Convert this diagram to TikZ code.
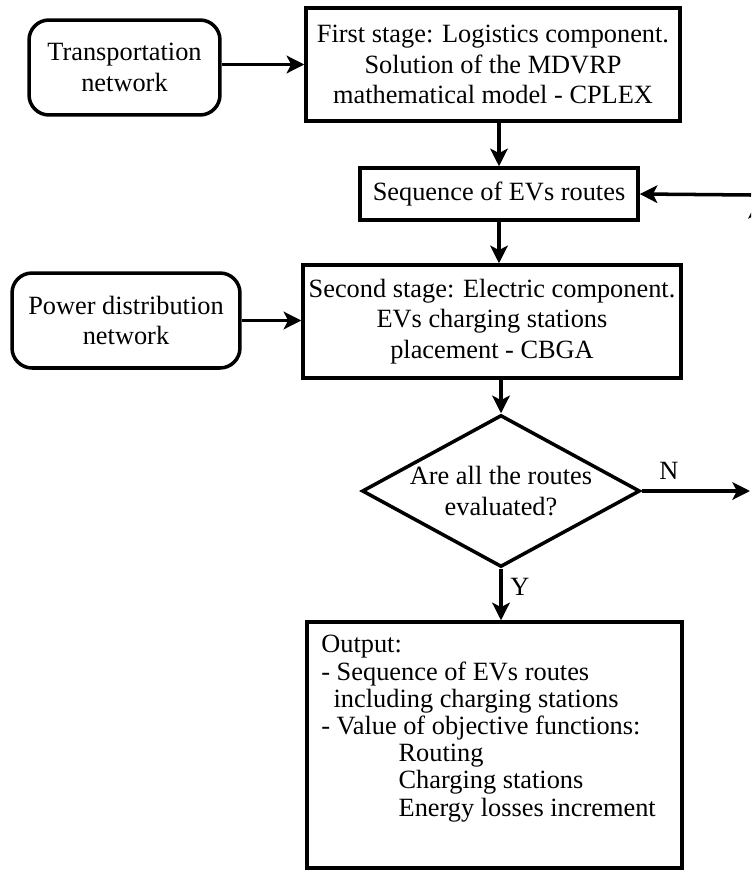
\documentclass[tikz,border=0pt]{standalone}
\usepackage{fontspec}
\setmainfont{Liberation Serif}
\usetikzlibrary{shapes.geometric,arrows.meta}

\begin{document}
\begin{tikzpicture}[x=0.02cm, y=-0.02cm,
	font=\fontsize{15}{17.5}\selectfont,
	box/.style={draw, line width=2pt, align=center, inner sep=0pt},
	rbox/.style={box, rounded corners=0.4cm},
	arr/.style={line width=2pt, -{Stealth[length=10pt,width=10pt,inset=2.5pt]}}]
	\useasboundingbox (0,0) rectangle (751,872);
	\clip (0,0) rectangle (751,872);
	\node[rbox, minimum width=3.82cm, minimum height=1.9cm] (trans) at (124.5,67.5) {Transportation\\network};
	\node[box, minimum width=7.48cm, minimum height=2.26cm] (first) at (493,64.5) {First stage: Logistics component.\\Solution of the MDVRP\\mathematical model - CPLEX};
	\node[box, minimum width=5.56cm, minimum height=1.04cm] (seq) at (499,194) {Sequence of EVs routes};
	\node[rbox, minimum width=4.56cm, minimum height=1.9cm] (power) at (126,320.5) {Power distribution\\network};
	\node[box, minimum width=7.56cm, minimum height=2.26cm] (second) at (492,321.5) {Second stage: Electric component.\\EVs charging stations\\placement - CBGA};
	\node[box, diamond, shape aspect=1.8, minimum width=5.56cm, minimum height=3.04cm] (diam) at (501,491) {Are all the routes\\evaluated?};
	\node[box, minimum width=7.5cm, minimum height=4.92cm] (out) at (494.5,745) {};
	\node[anchor=north west, align=left, inner sep=0pt, font=\fontsize{15}{15.5}\selectfont] (outtxt) at (321,635) {Output:\\- Sequence of EVs routes\\\hspace*{7pt}including charging stations\\- Value of objective functions:\\\hspace*{44pt}Routing\\\hspace*{44pt}Charging stations\\\hspace*{44pt}Energy losses increment};
	\coordinate (nend) at (750,491);
	\coordinate (ret) at (751,195);
	\coordinate (upbot) at (757,260);
	\coordinate (uptop) at (757,201);
	\draw[arr] (trans.east |- first.west) -- (first.west);
	\draw[arr] (power.east) -- (power.east -| second.west);
	\draw[arr] (first.south -| seq.north) -- (seq.north);
	\draw[arr] (seq.south) -- (seq.south |- second.north);
	\draw[arr] (second.south -| diam.north) -- (diam.north);
	\draw[arr] (diam.south) -- (diam.south |- out.north) node[pos=0.35, right=1pt] {Y};
	\draw[arr] (diam.east) -- (nend) node[pos=0.25, above=2pt] {N};
	\draw[arr] (ret) -- (seq.east);
	\draw[arr] (upbot) -- (uptop);
\end{tikzpicture}
\end{document}
